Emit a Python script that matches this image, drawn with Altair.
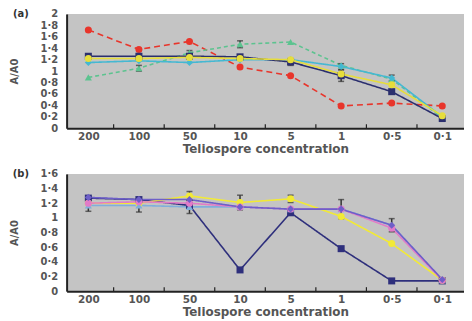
import json
import altair as alt
import pandas as pd

# ---------------- data ----------------
conc = ["200", "100", "50", "10", "5", "1", "0·5", "0·1"]

# panel (a)
a_names = ["a_red", "a_green", "a_cyan", "a_navy", "a_yellow"]
a_red = [1.72, 1.38, 1.52, 1.07, 0.92, 0.39, 0.44, 0.39]
a_green = [0.89, 1.05, 1.32, 1.47, 1.51, 1.10, 0.86, 0.18]
a_cyan = [1.15, 1.18, 1.15, 1.20, 1.20, 1.08, 0.88, 0.20]
a_navy = [1.26, 1.26, 1.26, 1.25, 1.16, 0.92, 0.64, 0.17]
a_yellow = [1.22, 1.22, 1.24, 1.22, 1.20, 0.95, 0.76, 0.22]
a_err_red = [0, 0, 0, 0, 0, 0, 0, 0]
a_err_green = [0, 0.05, 0.04, 0.06, 0, 0, 0, 0]
a_err_cyan = [0, 0, 0, 0, 0, 0.05, 0.05, 0]
a_err_navy = [0, 0.04, 0, 0, 0.06, 0.10, 0, 0]
a_err_yellow = [0, 0, 0, 0, 0, 0, 0, 0]
a_colors = ["#e8352b", "#5cc38f", "#45b8d2", "#2b2f6e", "#e6dd3c"]
a_dash = [[6, 4], [4, 3], [1, 0], [1, 0], [1, 0]]
a_shapes = ["circle", "triangle-up", "diamond", "square", "circle"]

# panel (b)
b_names = ["b_navy", "b_yellow", "b_lblue", "b_pink", "b_purple"]
b_navy = [1.27, 1.25, 1.17, 0.29, 1.07, 0.58, 0.14, 0.14]
b_yellow = [1.20, 1.20, 1.30, 1.21, 1.26, 1.02, 0.65, 0.15]
b_lblue = [1.17, 1.17, 1.15, 1.15, 1.12, 1.12, 0.90, 0.15]
b_pink = [1.20, 1.22, 1.20, 1.15, 1.12, 1.12, 0.86, 0.15]
b_purple = [1.28, 1.25, 1.25, 1.15, 1.12, 1.12, 0.90, 0.16]
b_err_navy = [0, 0, 0, 0, 0, 0, 0, 0]
b_err_yellow = [0, 0, 0.06, 0.10, 0.05, 0, 0, 0]
b_err_lblue = [0.08, 0.09, 0.09, 0, 0, 0.13, 0, 0]
b_err_pink = [0, 0, 0, 0, 0, 0, 0, 0]
b_err_purple = [0, 0, 0, 0, 0, 0, 0.09, 0]
b_colors = ["#2e2f7c", "#f2ea35", "#7faedc", "#e27bc8", "#6e5fc8"]
b_dash = [[1, 0], [1, 0], [1, 0], [1, 0], [1, 0]]
b_shapes = ["square", "circle", "triangle-up", "circle", "diamond"]

mid_ticks = [0.5, 1.5, 2.5, 3.5, 4.5, 5.5, 6.5]

a_ticks = [0, 0.2, 0.4, 0.6, 0.8, 1, 1.2, 1.4, 1.6, 1.8, 2]
b_ticks = [0, 0.2, 0.4, 0.6, 0.8, 1, 1.2, 1.4, 1.6]


def long_df(names, series, errs):
    rows = []
    for n, vals, es in zip(names, series, errs):
        for i, (v, e) in enumerate(zip(vals, es)):
            rows.append({"idx": i, "s": n, "v": v, "lo": v - e, "hi": v + e, "e": e})
    return pd.DataFrame(rows)


FONT = "DejaVu Sans"
x_label_expr = json.dumps(conc) + "[datum.value]"
y_label_expr = "replace(format(datum.value, '.1~f'), '.', '·')"


def panel(df, names, colors, dashes, shapes, ymax, yticks, h, label):
    xs = alt.Scale(domain=[-0.43, 7.43], nice=False, zero=False)
    ys = alt.Scale(domain=[0, ymax], nice=False)
    xaxis = alt.Axis(
        values=list(range(len(conc))),
        labelExpr=x_label_expr,
        title="Teliospore concentration",
        ticks=False,
        tickSize=0,
        grid=False,
        labelPadding=3,
        titlePadding=2,
    )
    yaxis = alt.Axis(
        values=yticks,
        labelExpr=y_label_expr,
        title="A/A0",
        ticks=False,
        tickSize=0,
        grid=False,
        labelPadding=9,
        labelOverlap=False,
        labelFontSize=10,
        minExtent=29,
        maxExtent=29,
        titlePadding=18,
        titleFontSize=10,
    )

    def X(f):
        return alt.X(f, scale=xs, axis=xaxis)

    def Y(f):
        return alt.Y(f, scale=ys, axis=yaxis)

    color = alt.Color("s:N", scale=alt.Scale(domain=names, range=colors), legend=None)
    dash = alt.StrokeDash("s:N", scale=alt.Scale(domain=names, range=dashes), legend=None)
    shape = alt.Shape("s:N", scale=alt.Scale(domain=names, range=shapes), legend=None)

    base = alt.Chart(df)
    lines = base.mark_line(strokeWidth=1.6).encode(
        x=X("idx:Q"), y=Y("v:Q"), color=color, strokeDash=dash, detail="s:N"
    )
    pts = base.mark_point(filled=True, size=50, opacity=1).encode(
        x=X("idx:Q"), y=Y("v:Q"), color=color, shape=shape
    )
    edf = base.transform_filter("datum.e > 0")
    err = edf.mark_rule(strokeWidth=1.5, color="#333").encode(x=X("idx:Q"), y=Y("lo:Q"), y2="hi:Q")
    cap_lo = edf.mark_tick(orient="horizontal", size=6, thickness=1.5, color="#333").encode(
        x=X("idx:Q"), y=Y("lo:Q")
    )
    cap_hi = edf.mark_tick(orient="horizontal", size=6, thickness=1.5, color="#333").encode(
        x=X("idx:Q"), y=Y("hi:Q")
    )
    ticks = (
        alt.Chart(pd.DataFrame({"idx": mid_ticks}))
        .mark_rule(color="#222", strokeWidth=1.2)
        .encode(x=X("idx:Q"), y=alt.value(h), y2=alt.value(h - 4))
    )
    lab = (
        alt.Chart(pd.DataFrame({"t": [label]}))
        .mark_text(font=FONT, fontWeight="bold", fontSize=10, color="#333", align="center", baseline="middle")
        .encode(text="t:N", x=alt.value(-46), y=alt.value(0))
    )
    return (
        alt.layer(lines, err, cap_lo, cap_hi, pts, ticks, lab)
        .properties(width=400, height=h)
    )


df_a = long_df(
    a_names,
    [a_red, a_green, a_cyan, a_navy, a_yellow],
    [a_err_red, a_err_green, a_err_cyan, a_err_navy, a_err_yellow],
)
df_b = long_df(
    b_names,
    [b_navy, b_yellow, b_lblue, b_pink, b_purple],
    [b_err_navy, b_err_yellow, b_err_lblue, b_err_pink, b_err_purple],
)

pa = panel(df_a, a_names, a_colors, a_dash, a_shapes, 2, a_ticks, 115, "(a)")
pb = panel(df_b, b_names, b_colors, b_dash, b_shapes, 1.6, b_ticks, 118, "(b)")

chart = (
    alt.vconcat(pa, pb, spacing=14)
    .resolve_scale(color="independent", strokeDash="independent", shape="independent")
    .properties(padding={"left": 2, "top": 0, "right": 0, "bottom": 0})
    .configure_view(fill="#c4c4c4", stroke=None)
    .configure_axis(
        labelFont=FONT,
        labelFontWeight="bold",
        labelFontSize=10.5,
        labelColor="#555",
        labelOverlap=False,
        titleFont=FONT,
        titleFontWeight="bold",
        titleFontSize=12,
        titleColor="#555",
        domainColor="#222",
        domainWidth=2,
    )
)

chart.save("out.html", embed_options={"renderer": "svg", "actions": False})
